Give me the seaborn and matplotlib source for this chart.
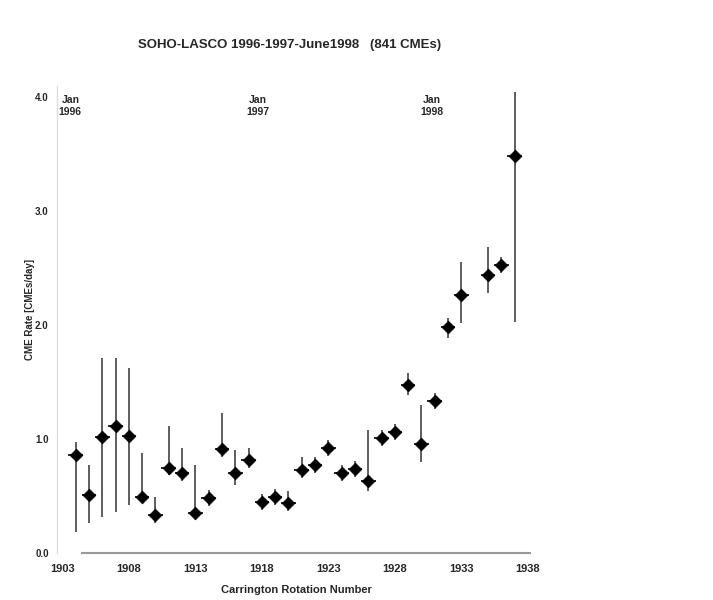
import numpy as np
import pandas as pd
import matplotlib
matplotlib.use("Agg")
import matplotlib.pyplot as plt
import seaborn as sns

# ---- data ----
rotation = [1904, 1905, 1906, 1907, 1908, 1909, 1910, 1911, 1912, 1913, 1914,
            1915, 1916, 1917, 1918, 1919, 1920, 1921, 1922, 1923, 1924, 1925,
            1926, 1927, 1928, 1929, 1930, 1931, 1932, 1933, 1935, 1936, 1937]
rate = [0.86, 0.51, 1.02, 1.11, 1.03, 0.49, 0.33, 0.75, 0.70, 0.35, 0.48,
        0.91, 0.70, 0.82, 0.45, 0.49, 0.44, 0.73, 0.77, 0.92, 0.70, 0.74,
        0.63, 1.01, 1.06, 1.47, 0.96, 1.33, 1.98, 2.26, 2.44, 2.53, 3.48]
err_hi = [0.97, 0.77, 1.71, 1.71, 1.62, 0.88, 0.49, 1.11, 0.92, 0.77, 0.55,
          1.23, 0.90, 0.92, 0.52, 0.56, 0.54, 0.84, 0.84, 0.99, 0.77, 0.81,
          1.08, 1.08, 1.13, 1.58, 1.30, 1.40, 2.06, 2.55, 2.68, 2.60, 4.04]
err_lo = [0.18, 0.26, 0.32, 0.36, 0.42, 0.44, 0.26, 0.68, 0.63, 0.30, 0.41,
          0.84, 0.60, 0.75, 0.38, 0.42, 0.37, 0.66, 0.70, 0.85, 0.63, 0.67,
          0.54, 0.94, 0.99, 1.39, 0.80, 1.26, 1.89, 2.02, 2.28, 2.46, 2.03]
x_ticks = [1903, 1908, 1913, 1918, 1923, 1928, 1933, 1938]
y_ticks = [0.0, 1.0, 2.0, 3.0, 4.0]
year_marks = [1903.6, 1917.7, 1930.8]
year_labels = ["Jan\n1996", "Jan\n1997", "Jan\n1998"]

df = pd.DataFrame({"rotation": rotation, "rate": rate})

sns.set_style("white")
plt.rcParams["font.family"] = ["Liberation Sans Narrow", "Liberation Sans", "DejaVu Sans"]

fig = plt.figure(figsize=(7.13, 6.0), dpi=100)
ax = fig.add_axes([57 / 713, 1 - 553 / 600, (535.8 - 57) / 713, (553 - 85.6) / 600])

lo = np.array(rate) - np.array(err_lo)
hi = np.array(err_hi) - np.array(rate)
ax.errorbar(rotation, rate, yerr=[lo, hi], fmt="none", ecolor="#505050",
            elinewidth=1.3, capsize=0, zorder=2)
ax.errorbar(rotation, rate, xerr=0.55, fmt="none", ecolor="#111111",
            elinewidth=1.3, capsize=0, zorder=2)
sns.scatterplot(data=df, x="rotation", y="rate", ax=ax, marker="D", s=42,
                color="black", edgecolor="black", zorder=3, legend=False)

ax.set_xlim(1902.6, 1938.6)
ax.set_ylim(0, 4.1)
ax.set_xticks(x_ticks)
ax.set_xticklabels([str(t) for t in x_ticks], fontsize=8, fontweight="bold")
ax.set_yticks(y_ticks)
ax.set_yticklabels([f"{t:.1f}" for t in y_ticks], fontsize=7, fontweight="bold")
ax.tick_params(axis="x", length=0, pad=8)
ax.tick_params(axis="y", length=3, color="#888888", direction="out", pad=3)

for s in ["top", "right"]:
    ax.spines[s].set_visible(False)
ax.spines["left"].set_color("#dddddd")
ax.spines["left"].set_linewidth(1.0)
ax.spines["bottom"].set_color("#999999")
ax.spines["bottom"].set_linewidth(1.5)
ax.spines["bottom"].set_bounds(1904.5, 1938.2)

for xm, lab in zip(year_marks, year_labels):
    ax.text(xm, 3.92, lab, ha="center", va="center", fontsize=7.5,
            fontweight="bold", linespacing=1.3)

ax.set_xlabel("Carrington Rotation Number", fontsize=8, fontweight="bold", labelpad=8)
ax.set_ylabel("CME Rate [CMEs/day]", fontsize=7, fontweight="bold")
ax.yaxis.set_label_coords(-0.045, 0.52)

fig.text(290 / 713, 1 - 45 / 600, "SOHO-LASCO 1996-1997-June1998   (841 CMEs)",
         ha="center", va="center", fontsize=9.5, fontweight="bold")

fig.savefig("out.png", dpi=100, facecolor="white")
